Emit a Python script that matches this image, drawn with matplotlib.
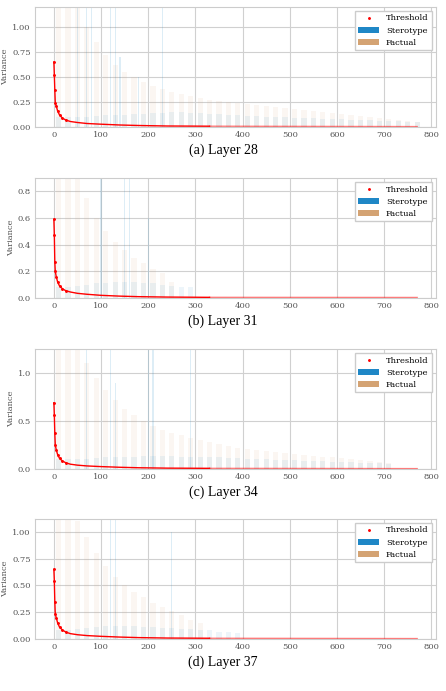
import numpy as np
import matplotlib.pyplot as plt

plt.rcParams['font.family'] = ['DejaVu Serif']
plt.rcParams['mathtext.fontset'] = 'cm'

step = 20
fact28 = [1.3, 1.3, 1.2, 1.0, 0.85, 0.72, 0.62, 0.55, 0.5, 0.45, 0.41, 0.38, 0.35, 0.33, 0.31, 0.29,
          0.27, 0.26, 0.25, 0.24, 0.23, 0.22, 0.21, 0.2, 0.19, 0.18, 0.17, 0.16, 0.15, 0.14, 0.13,
          0.12, 0.11, 0.1, 0.09, 0.08, 0.07, 0.06, 0.05]
ster28 = [0.1, 0.1, 0.1, 0.1, 0.11, 0.12, 0.12, 0.12, 0.13, 0.13, 0.14, 0.14, 0.15, 0.15, 0.14, 0.14,
          0.13, 0.13, 0.12, 0.12, 0.11, 0.11, 0.1, 0.1, 0.1, 0.09, 0.09, 0.09, 0.08, 0.08, 0.08,
          0.07, 0.07, 0.07, 0.06, 0.06, 0.06, 0.05, 0.05]
spike28_x = [50, 70, 80, 120, 130, 140, 180, 230]
spike28_y = [1.3, 1.3, 1.3, 1.3, 1.3, 0.7, 0.5, 1.3]

fact31 = [0.95, 0.95, 0.9, 0.75, 0.6, 0.5, 0.42, 0.36, 0.3, 0.26, 0.22, 0.19, 0.12]
ster31 = [0.08, 0.08, 0.09, 0.1, 0.11, 0.11, 0.12, 0.12, 0.12, 0.11, 0.11, 0.1, 0.09, 0.08, 0.08]
spike31_x = [100, 150, 160, 200]
spike31_y = [0.95, 0.95, 0.95, 0.6]

fact34 = [1.3, 1.3, 1.3, 1.1, 0.95, 0.82, 0.72, 0.63, 0.56, 0.5, 0.45, 0.41, 0.38, 0.35, 0.32, 0.3,
          0.28, 0.26, 0.24, 0.22, 0.21, 0.2, 0.19, 0.18, 0.17, 0.16, 0.15, 0.14, 0.13, 0.12, 0.11,
          0.1, 0.09, 0.08, 0.07, 0.06]
ster34 = [0.1, 0.1, 0.1, 0.1, 0.11, 0.12, 0.12, 0.13, 0.13, 0.14, 0.14, 0.14, 0.14, 0.13, 0.13, 0.13,
          0.12, 0.12, 0.11, 0.11, 0.1, 0.1, 0.1, 0.09, 0.09, 0.09, 0.08, 0.08, 0.08, 0.07, 0.07,
          0.07, 0.06, 0.06, 0.06, 0.05]
spike34_x = [70, 120, 130, 200, 210, 290]
spike34_y = [1.3, 1.3, 0.9, 1.3, 1.3, 1.3]

fact37 = [1.2, 1.2, 1.1, 0.95, 0.8, 0.68, 0.58, 0.5, 0.44, 0.39, 0.34, 0.3, 0.26, 0.22, 0.18, 0.15]
ster37 = [0.08, 0.08, 0.09, 0.1, 0.11, 0.12, 0.12, 0.12, 0.12, 0.11, 0.11, 0.1, 0.1, 0.09, 0.09,
          0.08, 0.08, 0.07, 0.07, 0.06]
spike37_x = [120, 130, 250]
spike37_y = [1.2, 1.2, 1.0]

thr_x = [0, 1, 2, 3, 5, 8, 12, 18, 25, 35, 50, 70, 100, 140, 180, 240, 330]
thr28 = [0.65, 0.52, 0.37, 0.24, 0.21, 0.16, 0.12, 0.09, 0.07, 0.055, 0.045, 0.035, 0.028, 0.02, 0.015, 0.01, 0.008]
thr31 = [0.59, 0.47, 0.27, 0.2, 0.16, 0.12, 0.09, 0.07, 0.055, 0.045, 0.035, 0.028, 0.02, 0.014, 0.01, 0.007, 0.005]
thr34 = [0.69, 0.56, 0.37, 0.25, 0.2, 0.15, 0.11, 0.085, 0.065, 0.05, 0.04, 0.032, 0.025, 0.018, 0.013, 0.009, 0.007]
thr37 = [0.65, 0.54, 0.35, 0.23, 0.2, 0.15, 0.11, 0.085, 0.065, 0.05, 0.04, 0.032, 0.025, 0.018, 0.013, 0.009, 0.007]

layers = [
    ("(a) Layer 28", fact28, ster28, spike28_x, spike28_y, thr28, 1.2, 770, [0, 0.25, 0.5, 0.75, 1.0]),
    ("(b) Layer 31", fact31, ster31, spike31_x, spike31_y, thr31, 0.9, 770, [0, 0.2, 0.4, 0.6, 0.8]),
    ("(c) Layer 34", fact34, ster34, spike34_x, spike34_y, thr34, 1.25, 770, [0, 0.5, 1.0]),
    ("(d) Layer 37", fact37, ster37, spike37_x, spike37_y, thr37, 1.12, 770, [0, 0.25, 0.5, 0.75, 1.0]),
]

fig = plt.figure(figsize=(4.46, 6.91), dpi=100)
tops = [7, 178, 349, 519]
H = 691.0
for (cap, fact, ster, sx, sy, thr, ymax, xend, yt), top in zip(layers, tops):
    ax = fig.add_axes([35 / 446, 1 - (top + 120) / H, 401 / 446, 120 / H])
    xs_f = np.arange(len(fact)) * step + step / 2
    xs_s = np.arange(len(ster)) * step + step / 2
    ax.bar(xs_f, fact, width=step * 0.55, color='#d4a373', alpha=0.09, zorder=2)
    ax.bar(xs_s, ster, width=step * 0.55, color='#1f87c6', alpha=0.08, zorder=2)
    ax.bar(sx, sy, width=2.5, color='#1f87c6', alpha=0.15, zorder=2)
    ax.plot(thr_x, thr, color='red', lw=1.0, zorder=3)
    ax.plot([thr_x[-1], xend], [thr[-1], 0.004], color='red', lw=1.0, alpha=0.5, zorder=3)
    ax.scatter(thr_x[:9], thr[:9], s=1.2, color='red', zorder=4)
    # legend handles
    ax.scatter([], [], s=1.2, color='red', label='Threshold')
    ax.bar([0], [0], color='#1f87c6', label='Sterotype')
    ax.bar([0], [0], color='#d4a373', label='Factual')
    ax.set_xlim(-40, 810)
    ax.set_ylim(0, ymax)
    ax.set_yticks(yt)
    ax.set_xticks(range(0, 801, 100))
    ax.grid(color='#d0d0d0', lw=0.8, zorder=0)
    ax.set_axisbelow(True)
    for s in ax.spines.values():
        s.set_color('#cccccc')
    ax.tick_params(labelsize=6, colors='#555555', length=0, pad=3)
    ax.set_ylabel('Variance', fontsize=6, color='#555555', labelpad=2)
    ax.legend(loc='upper right', fontsize=6, framealpha=1, edgecolor='#cccccc', fancybox=False,
              handlelength=2.5, markerscale=1)
    fig.text(0.5, 1 - (top + 143) / H, cap, ha='center', va='center', fontsize=10,
             family='Liberation Serif')

fig.savefig('out.png', dpi=100)
